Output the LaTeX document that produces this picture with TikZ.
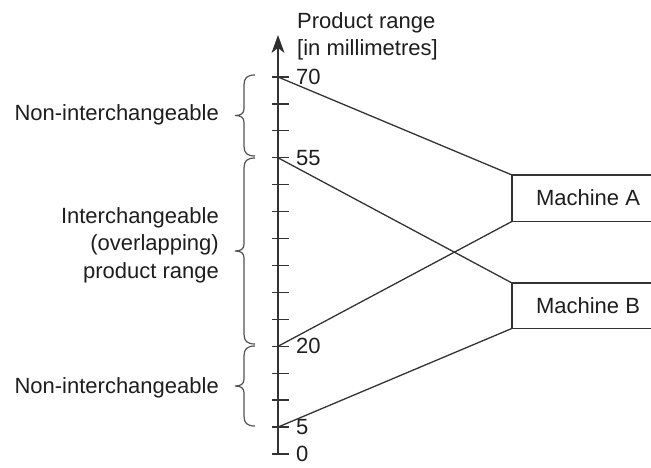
\documentclass[tikz,border=0pt]{standalone}
\usepackage{fontspec}
\setmainfont{Liberation Sans}
\usetikzlibrary{arrows.meta}
\definecolor{ink}{HTML}{333333}
\definecolor{txt}{HTML}{1E1E1E}
\tikzset{
  lbl/.style={inner sep=0pt, text=txt, font=\fontsize{22}{27.5}\selectfont},
  ln/.style={draw=ink, line width=1.3pt},
  tickln/.style={draw=ink, line width=1.3pt},
  brc/.style={draw=ink!85, line width=1.2pt},
  headfill/.style={fill=ink!90!black, draw=none},
}
\newcommand{\mybrace}[3]{% x-end, top y, bottom y (all positive px, y down)
  \pgfmathsetmacro{\mm}{(#2+#3)/2}
  \draw[brc] (#1,#2) .. controls (#1-8,#2) and (#1-11,#2+3) .. (#1-11,#2+10)
    -- (#1-11,\mm-7) .. controls (#1-11,\mm-2) and (#1-14,\mm) .. (#1-20,\mm)
    .. controls (#1-14,\mm) and (#1-11,\mm+2) .. (#1-11,\mm+7)
    -- (#1-11,#3-10) .. controls (#1-11,#3-3) and (#1-8,#3) .. (#1,#3);
}
\begin{document}
\begin{tikzpicture}[x=1pt,y=-1pt]
\useasboundingbox (0,0) rectangle (651,467);
% axis
\coordinate (a0) at (278,454);
\coordinate (atop) at (278,35);
\draw[ln, line width=1.5pt] (a0) -- ([yshift=-10pt]atop);
\fill[headfill] (atop) -- ([xshift=-6.5pt,yshift=-18pt]atop) -- ([yshift=-13pt]atop) -- ([xshift=6.5pt,yshift=-18pt]atop) -- cycle;
% ticks
\foreach \v in {0,5,...,70}{
  \pgfmathsetmacro{\yy}{454-\v*5.386}
  \draw[tickln] (272,\yy) -- (289,\yy);
  \coordinate (v\v) at (278,\yy);
}
% tick labels
\foreach \v in {70,55,20,5,0}{
  \node[lbl, anchor=west] (n\v) at ([xshift=18pt]v\v) {\v};
}
% axis title
\node[lbl, anchor=north west, align=left] (title) at (297,12) {Product range\\{}{[in millimetres]}};
% machine boxes
\node[inner sep=0pt, minimum width=139pt, minimum height=46pt, anchor=north west] (boxA) at (512,175) {};
\node[inner sep=0pt, minimum width=139pt, minimum height=45pt, anchor=north west] (boxB) at (512,283) {};
\draw[ln] (boxA.north east) -- (boxA.north west) -- (boxA.south west) -- (boxA.south east);
\draw[ln] (boxB.north east) -- (boxB.north west) -- (boxB.south west) -- (boxB.south east);
\node[lbl] (tA) at (588,198) {Machine A};
\node[lbl] (tB) at (588,306) {Machine B};
% connectors
\draw[ln] (v70) -- (boxA.north west);
\draw[ln] (v20) -- (boxA.south west);
\draw[ln] (v55) -- (boxB.north west);
\draw[ln] (v5) -- (boxB.south west);
% braces
\mybrace{255}{75}{156}
\mybrace{255}{158}{344}
\mybrace{255}{346}{426}
% brace labels
\node[lbl, anchor=east] (l1) at (219,115) {Non-interchangeable};
\node[lbl, anchor=east, align=right] (l2) at (219,245) {Interchangeable\\(overlapping)\\product range};
\node[lbl, anchor=east] (l3) at (219,388) {Non-interchangeable};
\end{tikzpicture}
\end{document}
